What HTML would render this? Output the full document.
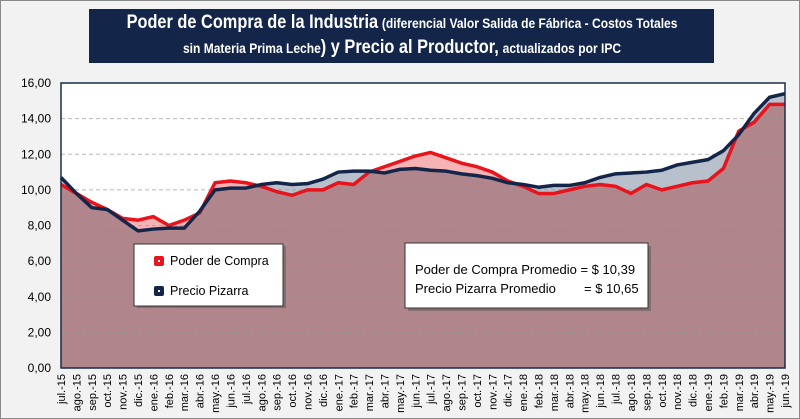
<!DOCTYPE html>
<html><head><meta charset="utf-8"><style>
body{margin:0;background:#fff}
#wrap{position:relative;width:798px;height:417px;border:1px solid #8a8a8a;background:#f2f2f2;overflow:hidden;font-family:"Liberation Sans",sans-serif}
#title{position:absolute;left:88px;top:8px;width:625px;height:54px;background:#13264a;color:#fff;font-family:"Liberation Sans",sans-serif;font-weight:bold}
.ln{position:absolute;left:50%;white-space:nowrap;transform:translateX(-50%) scaleX(0.86);transform-origin:center}
.big{font-size:19px}.sm{font-size:14px}
</style></head><body>
<div id="wrap">
<div id="title">
<div class="ln" style="top:3px"><span class="big">Poder de Compra de la Industria</span> <span class="sm">(diferencial Valor Salida de Fábrica - Costos Totales</span></div>
<div class="ln" style="top:28px"><span class="sm">sin Materia Prima Leche</span><span class="big">) y Precio al Productor,</span> <span class="sm">actualizados por IPC</span></div>
</div>
<svg id="chart" width="800" height="419" style="position:absolute;left:-1px;top:-1px"></svg>
</div>
<script>
const categories=["jul.-15","ago.-15","sep.-15","oct.-15","nov.-15","dic.-15","ene.-16","feb.-16","mar.-16","abr.-16","may.-16","jun.-16","jul.-16","ago.-16","sep.-16","oct.-16","nov.-16","dic.-16","ene.-17","feb.-17","mar.-17","abr.-17","may.-17","jun.-17","jul.-17","ago.-17","sep.-17","oct.-17","nov.-17","dic.-17","ene.-18","feb.-18","mar.-18","abr.-18","may.-18","jun.-18","jul.-18","ago.-18","sep.-18","oct.-18","nov.-18","dic.-18","ene.-19","feb.-19","mar.-19","abr.-19","may.-19","jun.-19"];
const poderCompra=[10.3,9.8,9.3,8.9,8.4,8.3,8.5,8.0,8.3,8.7,10.4,10.5,10.4,10.2,9.9,9.7,10.0,10.0,10.4,10.3,11.0,11.3,11.6,11.9,12.1,11.8,11.5,11.3,11.0,10.5,10.2,9.8,9.8,10.0,10.2,10.3,10.2,9.8,10.3,10.0,10.2,10.4,10.5,11.2,13.3,13.8,14.8,14.8];
const precioPizarra=[10.7,9.8,9.0,8.9,8.3,7.7,7.8,7.85,7.85,8.8,10.0,10.1,10.1,10.3,10.4,10.3,10.35,10.6,11.0,11.05,11.05,10.95,11.15,11.2,11.1,11.05,10.9,10.8,10.65,10.4,10.3,10.15,10.25,10.25,10.4,10.7,10.9,10.95,11.0,11.1,11.4,11.55,11.7,12.2,13.1,14.3,15.2,15.4];
const yTicks=[0,2,4,6,8,10,12,14,16];
const yTickLabels=["0,00","2,00","4,00","6,00","8,00","10,00","12,00","14,00","16,00"];
const NS="http://www.w3.org/2000/svg";
const svg=document.getElementById('chart');
const X0=61,X1=785,Y0=368,Y1=83;
const x=i=>X0+i*(X1-X0)/(categories.length-1);
const y=v=>Y0-(v/16)*(Y0-Y1);
function mk(t,a,p){const e=document.createElementNS(NS,t);for(const k in a)e.setAttribute(k,a[k]);(p||svg).appendChild(e);return e;}
const defs=mk('defs',{});
const plot=mk('rect',{x:X0,y:Y1,width:X1-X0+1,height:Y0-Y1,fill:'#fff'});


function areaPts(arr){return arr.map((v,i)=>x(i)+','+y(v)).join(' ')+' '+x(arr.length-1)+','+Y0+' '+x(0)+','+Y0;}
function linePts(arr){return arr.map((v,i)=>x(i)+','+y(v)).join(' ');}
const cp=mk('clipPath',{id:'navyClip'},defs);
mk('polygon',{points:areaPts(precioPizarra)},cp);
const a1=mk('polygon',{points:areaPts(poderCompra),fill:'#f6b3b6'});


const a2=mk('polygon',{points:areaPts(precioPizarra),fill:'#b8c0cb'});


const a3=mk('polygon',{points:areaPts(poderCompra),fill:'#b0858b','clip-path':'url(#navyClip)'});


yTicks.forEach((t,i)=>{
  if(t>0&&t<16){const g=mk('line',{x1:X0,x2:X1,y1:y(t),y2:y(t),stroke:'#999','stroke-dasharray':'4,3','stroke-width':1,opacity:0.7});
  
  }
  const tx=mk('text',{x:51,y:y(t)+4,'text-anchor':'end','font-size':12,fill:'#000'});
  tx.textContent=yTickLabels[i];
  
  
});
const l1=mk('polyline',{points:linePts(poderCompra),fill:'none',stroke:'#e8131b','stroke-width':3.5,'stroke-linejoin':'round'});


const l2=mk('polyline',{points:linePts(precioPizarra),fill:'none',stroke:'#13264a','stroke-width':3.5,'stroke-linejoin':'round'});


const bd=mk('rect',{x:X0,y:Y1,width:X1-X0,height:Y0-Y1,fill:'none',stroke:'#1b2a45','stroke-width':1.5});


categories.forEach((c,i)=>{
  const t=mk('text',{transform:`translate(${x(i)+4},${Y0+6}) rotate(-90)`,'text-anchor':'end','font-size':11,fill:'#000'});
  t.textContent=c;
  
  
});
const lg=mk('g',{});


mk('rect',{x:137,y:246,width:149,height:62,fill:'#555',opacity:0.5},lg);
mk('rect',{x:134,y:244,width:149,height:62,fill:'#fff',stroke:'#333','stroke-width':1},lg);
[[ 'Poder de Compra','#e8131b',261],['Precio Pizarra','#13264a',291]].forEach(([n,c,yy])=>{
  const e=mk('g',{},lg);
  
  
  mk('rect',{x:154,y:yy-5,width:10,height:10,rx:2,fill:c},e);
  mk('rect',{x:158,y:yy-1,width:2,height:2,fill:'#fff'},e);
  const t=mk('text',{x:170,y:yy+4,'font-size':12.5,fill:'#000'},e);t.textContent=n;
});
const an=mk('g',{});


mk('rect',{x:408,y:246,width:243,height:65,fill:'#555',opacity:0.5},an);
mk('rect',{x:405,y:243,width:243,height:65,fill:'#fff',stroke:'#333','stroke-width':1},an);
const t1=mk('text',{x:415,y:274,'font-size':13,fill:'#000'},an);t1.textContent='Poder de Compra Promedio = $ 10,39';
const t2=mk('text',{x:415,y:293,'font-size':13,fill:'#000'},an);t2.textContent='Precio Pizarra Promedio';
const t3=mk('text',{x:584,y:293,'font-size':13,fill:'#000'},an);t3.textContent='= $ 10,65';
</script>
</body></html>
